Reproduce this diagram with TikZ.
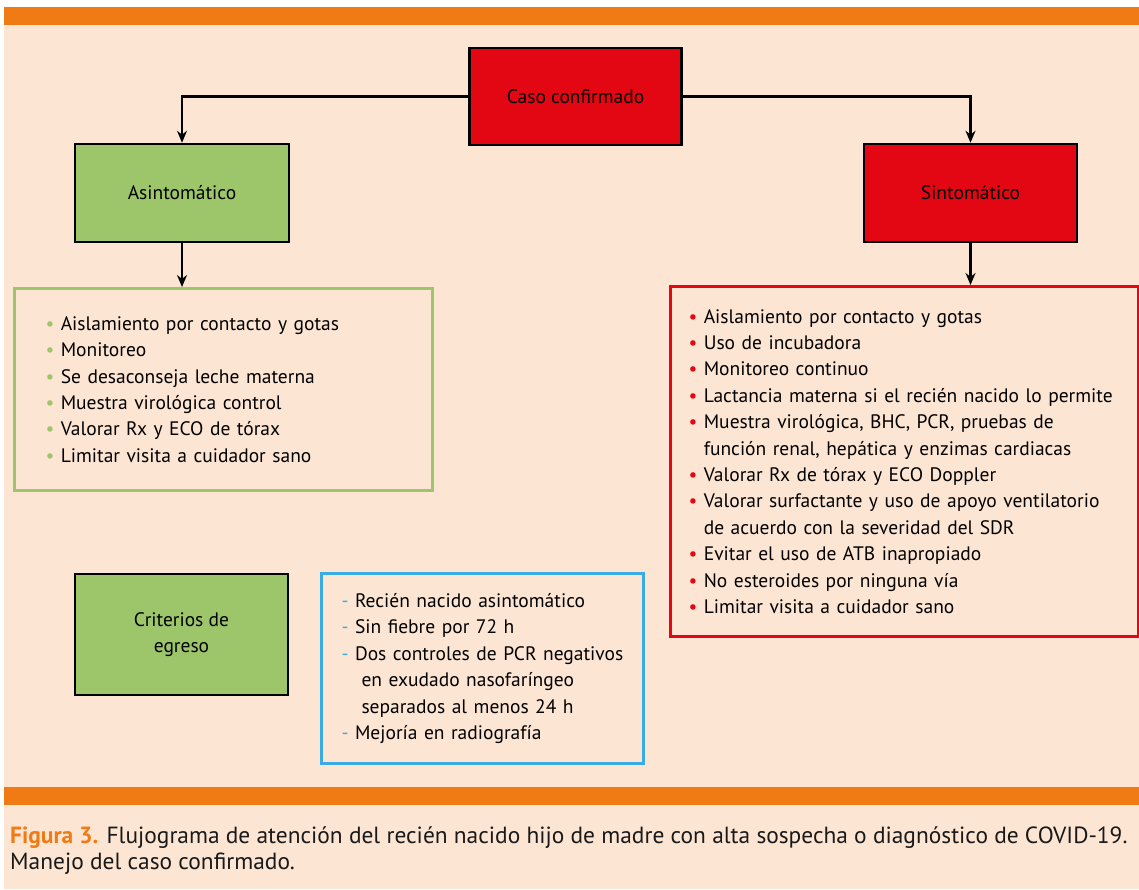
\documentclass[tikz,border=0pt]{standalone}
\usepackage{fontspec}
\setmainfont{PT Sans}
\usetikzlibrary{arrows.meta}
\definecolor{bandorange}{HTML}{F07A14}
\definecolor{peach}{HTML}{FDE5D3}
\definecolor{boxred}{HTML}{E30613}
\definecolor{boxgreen}{HTML}{9DC66B}
\definecolor{listblue}{HTML}{3AACE3}
\newcommand{\gdot}{\textcolor{boxgreen}{\textbullet}\ }
\newcommand{\rdot}{\textcolor{boxred}{\textbullet}\ }
\newcommand{\bdash}{\textcolor{listblue}{-}\ }
\newcommand{\hang}{\hphantom{\textbullet\ }}
\tikzset{
  flowbox/.style={draw=black, line width=2.5pt, align=center,
    font=\fontsize{19.5}{26.4}\selectfont},
  listbox/.style={line width=3pt, anchor=north west, align=left,
    inner ysep=0pt, font=\fontsize{19.5}{26.4}\selectfont},
  link/.style={line width=2.5pt, -{Stealth[length=12pt,width=10pt]}}
}
\begin{document}
\begin{tikzpicture}[x=1pt,y=-1pt]
\useasboundingbox (0,0) rectangle (1139,889);
% background and bands
\fill[peach] (4,7) rectangle (1139,889);
\fill[bandorange] (4,7) rectangle (1139,25);
\fill[bandorange] (4,787) rectangle (1139,805);
% flow boxes
\node[flowbox, fill=boxred, minimum width=212pt, minimum height=97pt] (caso) at (575.5,96.5) {Caso confirmado};
\node[flowbox, fill=boxgreen, minimum width=214pt, minimum height=98pt] (asin) at (182,193) {Asintomático};
\node[flowbox, fill=boxred, minimum width=213pt, minimum height=98pt] (sint) at (970.5,193) {Sintomático};
\node[flowbox, fill=boxgreen, minimum width=213pt, minimum height=121pt] (egreso) at (181.5,634.5) {Criterios de\\egreso};
% lists
\node[listbox, draw=boxgreen, inner xsep=31pt, text width=356pt, minimum height=202pt] (asinlist) at (13,287) {%
\gdot Aislamiento por contacto y gotas\\
\gdot Monitoreo\\
\gdot Se desaconseja leche materna\\
\gdot Muestra virológica control\\
\gdot Valorar Rx y ECO de tórax\\
\gdot Limitar visita a cuidador sano};
\node[listbox, draw=boxred, inner xsep=18pt, text width=432pt, minimum height=350pt] (sintlist) at (669,285) {%
\rdot Aislamiento por contacto y gotas\\
\rdot Uso de incubadora\\
\rdot Monitoreo continuo\\
\rdot Lactancia materna si el recién nacido lo permite\\
\rdot Muestra virológica, BHC, PCR, pruebas de\\
\hang función renal, hepática y enzimas cardiacas\\
\rdot Valorar Rx de tórax y ECO Doppler\\
\rdot Valorar surfactante y uso de apoyo ventilatorio\\
\hang de acuerdo con la severidad del SDR\\
\rdot Evitar el uso de ATB inapropiado\\
\rdot No esteroides por ninguna vía\\
\rdot Limitar visita a cuidador sano};
\node[listbox, draw=listblue, inner xsep=20pt, text width=282pt, minimum height=190pt] (egresolist) at (320,572) {%
\bdash Recién nacido asintomático\\
\bdash Sin fiebre por 72 h\\
\bdash Dos controles de PCR negativos\\
\hphantom{-\ }\ en exudado nasofaríngeo\\
\hphantom{-\ }\ separados al menos 24 h\\
\bdash Mejoría en radiografía};
% connectors
\draw[link] (caso.west) -| (asin.north);
\draw[link] (caso.east) -| (sint.north);
\draw[link] (asin.south) -- (asin.south |- asinlist.north);
\draw[link] (sint.south) -- (sint.south |- sintlist.north);
% caption
\node[anchor=north west, align=left, inner sep=0pt, text=black!90,
  font=\fontsize{23.4}{26.5}\selectfont] (caption) at (10,826)
  {{\color{bandorange}\bfseries Figura 3.} Flujograma de atención del recién nacido hijo de madre con alta sospecha o diagnóstico de COVID-19.\\
  Manejo del caso confirmado.};
\end{tikzpicture}
\end{document}
